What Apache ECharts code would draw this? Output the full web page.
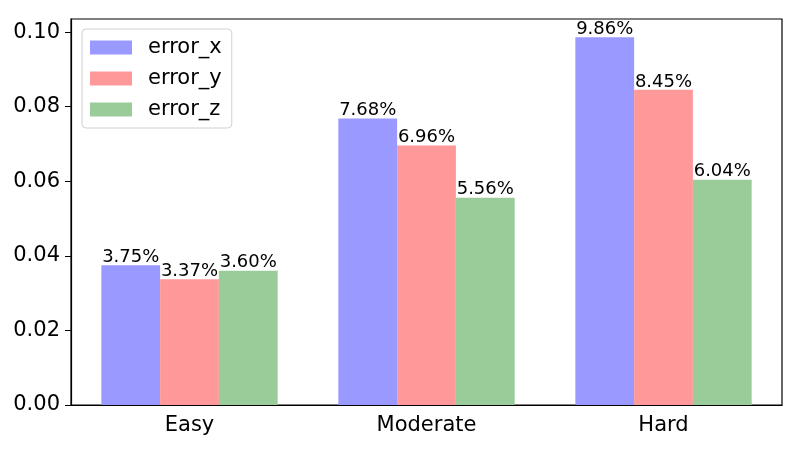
<!DOCTYPE html>
<html>
<head>
<meta charset="utf-8">
<script src="https://cdn.jsdelivr.net/npm/echarts@6/dist/echarts.min.js"></script>
<style>
  html, body { margin: 0; padding: 0; background: #fff; }
  #main { width: 800px; height: 450px; }
</style>
</head>
<body>
<div id="main"></div>
<script>
// data
var categories = ['Easy', 'Moderate', 'Hard'];
var errorX = [0.0375, 0.0768, 0.0986];
var errorY = [0.0337, 0.0696, 0.0845];
var errorZ = [0.0360, 0.0556, 0.0604];

var chart = echarts.init(document.getElementById('main'));
var font = 'DejaVu Sans';

// one bar series, label shows the value as a percent
function barSeries(name, data, color) {
  return {
    name: name,
    type: 'bar',
    data: data,
    barWidth: '24.8%',
    barGap: '0%',
    itemStyle: { color: color },
    label: {
      show: true,
      position: 'top',
      distance: -1,
      color: '#000',
      fontFamily: font,
      fontSize: 18,
      formatter: function (p) {
        return (p.value * 100).toFixed(2) + '%';
      }
    }
  };
}

var option = {
  animation: false,
  textStyle: { fontFamily: font },
  grid: {
    left: 71,
    right: 18,
    top: 19,
    bottom: 45,
    show: true,
    borderColor: '#000',
    borderWidth: 1.2
  },
  legend: {
    orient: 'vertical',
    left: 82,
    top: 29,
    padding: [8, 10, 8, 8],
    itemGap: 10,
    itemWidth: 42,
    itemHeight: 14,
    borderColor: '#d0d0d0',
    borderWidth: 1,
    borderRadius: 4,
    icon: 'rect',
    textStyle: {
      fontFamily: font,
      fontSize: 21,
      color: '#000',
      padding: [0, 0, 0, 11]
    },
    data: ['error_x', 'error_y', 'error_z']
  },
  xAxis: {
    type: 'category',
    data: categories,
    axisLine: { lineStyle: { color: '#000', width: 1.2 } },
    axisTick: { alignWithLabel: true, length: 6, lineStyle: { color: '#000' } },
    axisLabel: { color: '#000', fontSize: 21, fontFamily: font, margin: 10 }
  },
  yAxis: {
    type: 'value',
    min: 0,
    max: 0.1035,
    interval: 0.02,
    splitLine: { show: false },
    axisLine: { show: true, lineStyle: { color: '#000', width: 1.2 } },
    axisTick: { show: true, length: 6, lineStyle: { color: '#000' } },
    axisLabel: {
      color: '#000',
      fontSize: 21,
      fontFamily: font,
      margin: 11,
      showMaxLabel: false,
      formatter: function (v) { return v.toFixed(2); }
    }
  },
  series: [
    barSeries('error_x', errorX, '#9999ff'),
    barSeries('error_y', errorY, '#ff9999'),
    barSeries('error_z', errorZ, '#99cc99')
  ]
};

chart.setOption(option);
</script>
</body>
</html>
